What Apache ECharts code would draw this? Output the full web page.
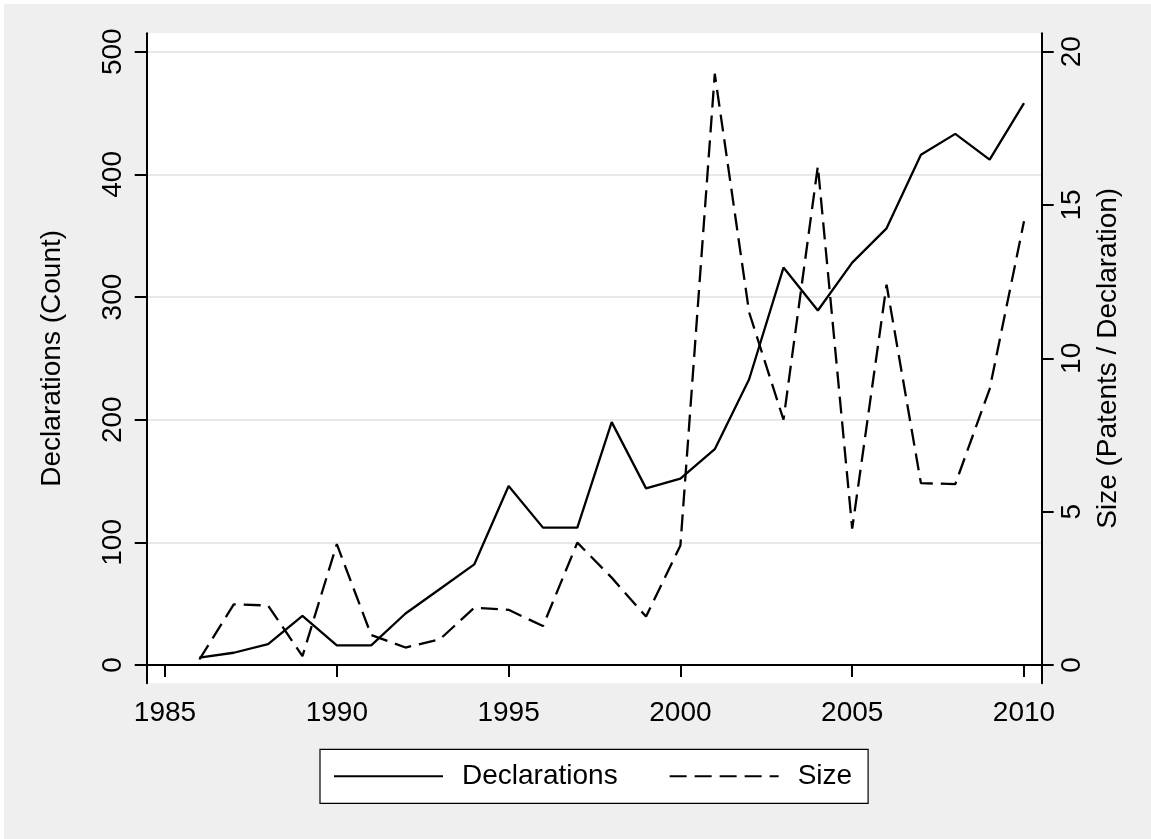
<!DOCTYPE html>
<html>
<head>
<meta charset="utf-8">
<script src="https://cdn.jsdelivr.net/npm/echarts@6/dist/echarts.min.js"></script>
<style>
html,body{margin:0;padding:0;background:#ffffff;}
#chart{width:1151px;height:839px;}
</style>
</head>
<body>
<div id="chart"></div>
<script>
const years = [1986,1987,1988,1989,1990,1991,1992,1993,1994,1995,1996,1997,1998,1999,2000,2001,2002,2003,2004,2005,2006,2007,2008,2009,2010];
const declarations = [6,10,17,40,16,16,42,62,82,146,112,112,198,144,152,176,233,324,289,328,356,416,433,412,458];
const size = [0.18,1.98,1.94,0.29,3.94,0.98,0.57,0.84,1.87,1.80,1.27,3.99,2.85,1.58,3.9,19.28,11.5,8.0,16.27,4.45,12.4,5.93,5.9,9.0,14.47];
const xTicks = [1985,1990,1995,2000,2005,2010];
const leftTicks = [0,100,200,300,400,500];
const rightTicks = [0,5,10,15,20];

const FONT = '"Liberation Sans", Arial, Helvetica, sans-serif';
const chart = echarts.init(document.getElementById('chart'), null, {renderer:'canvas'});
const axisLineStyle = {color:'#000', width:2};
const plain = v => String(v);
const option = {
  animation: false,
  backgroundColor: '#ffffff',
  textStyle: {fontFamily: FONT, color:'#000'},
  graphic: [{
    type:'rect', z:-100, silent:true,
    shape:{x:4, y:4, width:1147, height:835},
    style:{fill:'#efefef'}
  }],
  grid: {left:146.7, top:33.3, right:109.3, bottom:155.7, show:true, backgroundColor:'#ffffff', borderWidth:0},
  legend: {
    left:320, top:749.3,
    padding:[13,16,13,13],
    backgroundColor:'#ffffff', borderColor:'#000', borderWidth:1.2,
    itemWidth:109, itemHeight:14, itemGap:51,
    itemStyle:{opacity:0, borderWidth:0},
    textStyle:{fontSize:28, color:'#000', fontFamily:FONT, padding:[0,0,0,14]},
    data:['Declarations','Size']
  },
  xAxis: {
    type:'value', min:1984.467, max:2010.515,
    axisLine:{show:true, lineStyle:axisLineStyle},
    axisTick:{show:true, customValues:xTicks, length:12, lineStyle:axisLineStyle},
    axisLabel:{customValues:xTicks, formatter:plain, fontSize:28, color:'#000', margin:16, fontFamily:FONT},
    splitLine:{show:false}
  },
  yAxis: [{
    type:'value', position:'left', min:-14.9, max:515, splitNumber:5,
    name:'Declarations (Count)', nameLocation:'middle', nameGap:80, nameRotate:90,
    nameTextStyle:{fontSize:28, color:'#000', fontFamily:FONT},
    axisLine:{show:true, lineStyle:axisLineStyle},
    axisTick:{show:true, customValues:leftTicks, length:12, lineStyle:axisLineStyle},
    axisLabel:{customValues:leftTicks, formatter:plain, rotate:90, fontSize:28, color:'#000', margin:19, fontFamily:FONT},
    splitLine:{show:true, lineStyle:{color:'#e8e8e8', width:2}}
  },{
    type:'value', position:'right', min:-0.596, max:20.6,
    name:'Size (Patents / Declaration)', nameLocation:'middle', nameGap:45, nameRotate:90,
    nameTextStyle:{fontSize:28, color:'#000', fontFamily:FONT},
    axisLine:{show:true, lineStyle:axisLineStyle},
    axisTick:{show:true, customValues:rightTicks, length:12, lineStyle:axisLineStyle},
    axisLabel:{customValues:rightTicks, formatter:plain, rotate:90, fontSize:28, color:'#000', margin:17, fontFamily:FONT},
    splitLine:{show:false}
  }],
  series: [{
    name:'Declarations', type:'line', yAxisIndex:0, z:3,
    data: years.map((y,i)=>[y, declarations[i]]),
    symbol:'none', showSymbol:false,
    lineStyle:{color:'#000', width:2.3, type:'solid'},
    itemStyle:{color:'#000'}
  },{
    name:'Size', type:'line', yAxisIndex:1, z:3,
    data: years.map((y,i)=>[y, size[i]]),
    symbol:'none', showSymbol:false,
    lineStyle:{color:'#000', width:2.3, type:[17,8]},
    itemStyle:{color:'#000'}
  }]
};
chart.setOption(option);
</script>
</body>
</html>
